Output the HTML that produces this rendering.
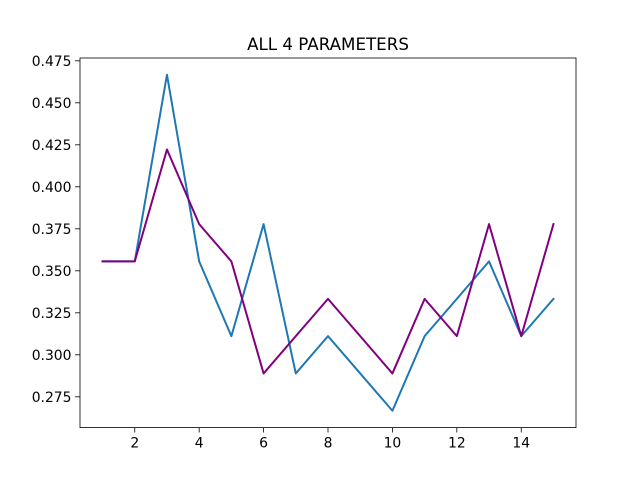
<!DOCTYPE html>
<html><head><meta charset="utf-8"><style>
html,body{margin:0;padding:0;background:#fff}
svg{display:block;font-family:"DejaVu Sans","Liberation Sans",sans-serif}
</style></head><body>
<svg id="chart" width="640" height="480" viewBox="0 0 640 480">
<rect width="640" height="480" fill="#fff"/>
<text x="328" y="50" font-size="16.7" text-anchor="middle">ALL 4 PARAMETERS</text>
<g id="ticks"></g>
<g id="series"></g>
<rect x="80" y="58" width="496" height="369.6" fill="none" stroke="#000" stroke-width="0.8"/>
</svg>
<script>
const xValues=[1,2,3,4,5,6,7,8,9,10,11,12,13,14,15];
const blueValues=[0.3556,0.3556,0.4667,0.3556,0.3111,0.3778,0.2889,0.3111,0.2889,0.2667,0.3111,0.3333,0.3556,0.3111,0.3333];
const purpleValues=[0.3556,0.3556,0.4222,0.3778,0.3556,0.2889,0.3111,0.3333,0.3111,0.2889,0.3333,0.3111,0.3778,0.3111,0.3778];
const xTicks=[2,4,6,8,10,12,14];
const yTicks=[0.275,0.300,0.325,0.350,0.375,0.400,0.425,0.450,0.475];

const NS='http://www.w3.org/2000/svg';
const L=80,R=576,T=58,B=427.6;
const xMin=0.3,xMax=15.7,yMin=0.25667,yMax=0.47667;
const sx=v=>L+(v-xMin)/(xMax-xMin)*(R-L);
const sy=v=>B-(v-yMin)/(yMax-yMin)*(B-T);
function mk(tag,attrs,parent){const e=document.createElementNS(NS,tag);for(const k in attrs)e.setAttribute(k,attrs[k]);parent.appendChild(e);return e;}
const tg=document.getElementById('ticks');
xTicks.forEach(t=>{
  const x=sx(t);
  const l=mk('line',{x1:x,x2:x,y1:B,y2:B+4.9,stroke:'#000','stroke-width':0.8},tg);
  
  
  const tx=mk('text',{x:x,y:B+20,'font-size':13.9,'text-anchor':'middle'},tg);
  tx.textContent=t;
  
  
});
yTicks.forEach(t=>{
  const y=sy(t);
  const l=mk('line',{x1:L-4.9,x2:L,y1:y,y2:y,stroke:'#000','stroke-width':0.8},tg);
  
  
  const tx=mk('text',{x:L-8.5,y:y+5,'font-size':13.9,'text-anchor':'end'},tg);
  tx.textContent=t.toFixed(3);
  
  
});
const sg=document.getElementById('series');
function line(vals,color,name){
  const p=mk('polyline',{points:vals.map((v,i)=>sx(xValues[i])+','+sy(v)).join(' '),fill:'none',stroke:color,'stroke-width':2,'stroke-linejoin':'round','stroke-linecap':'square'},sg);
  
  
}
line(blueValues,'#1f77b4','blue-series-line');
line(purpleValues,'#800080','purple-series-line');
</script>
</body></html>
